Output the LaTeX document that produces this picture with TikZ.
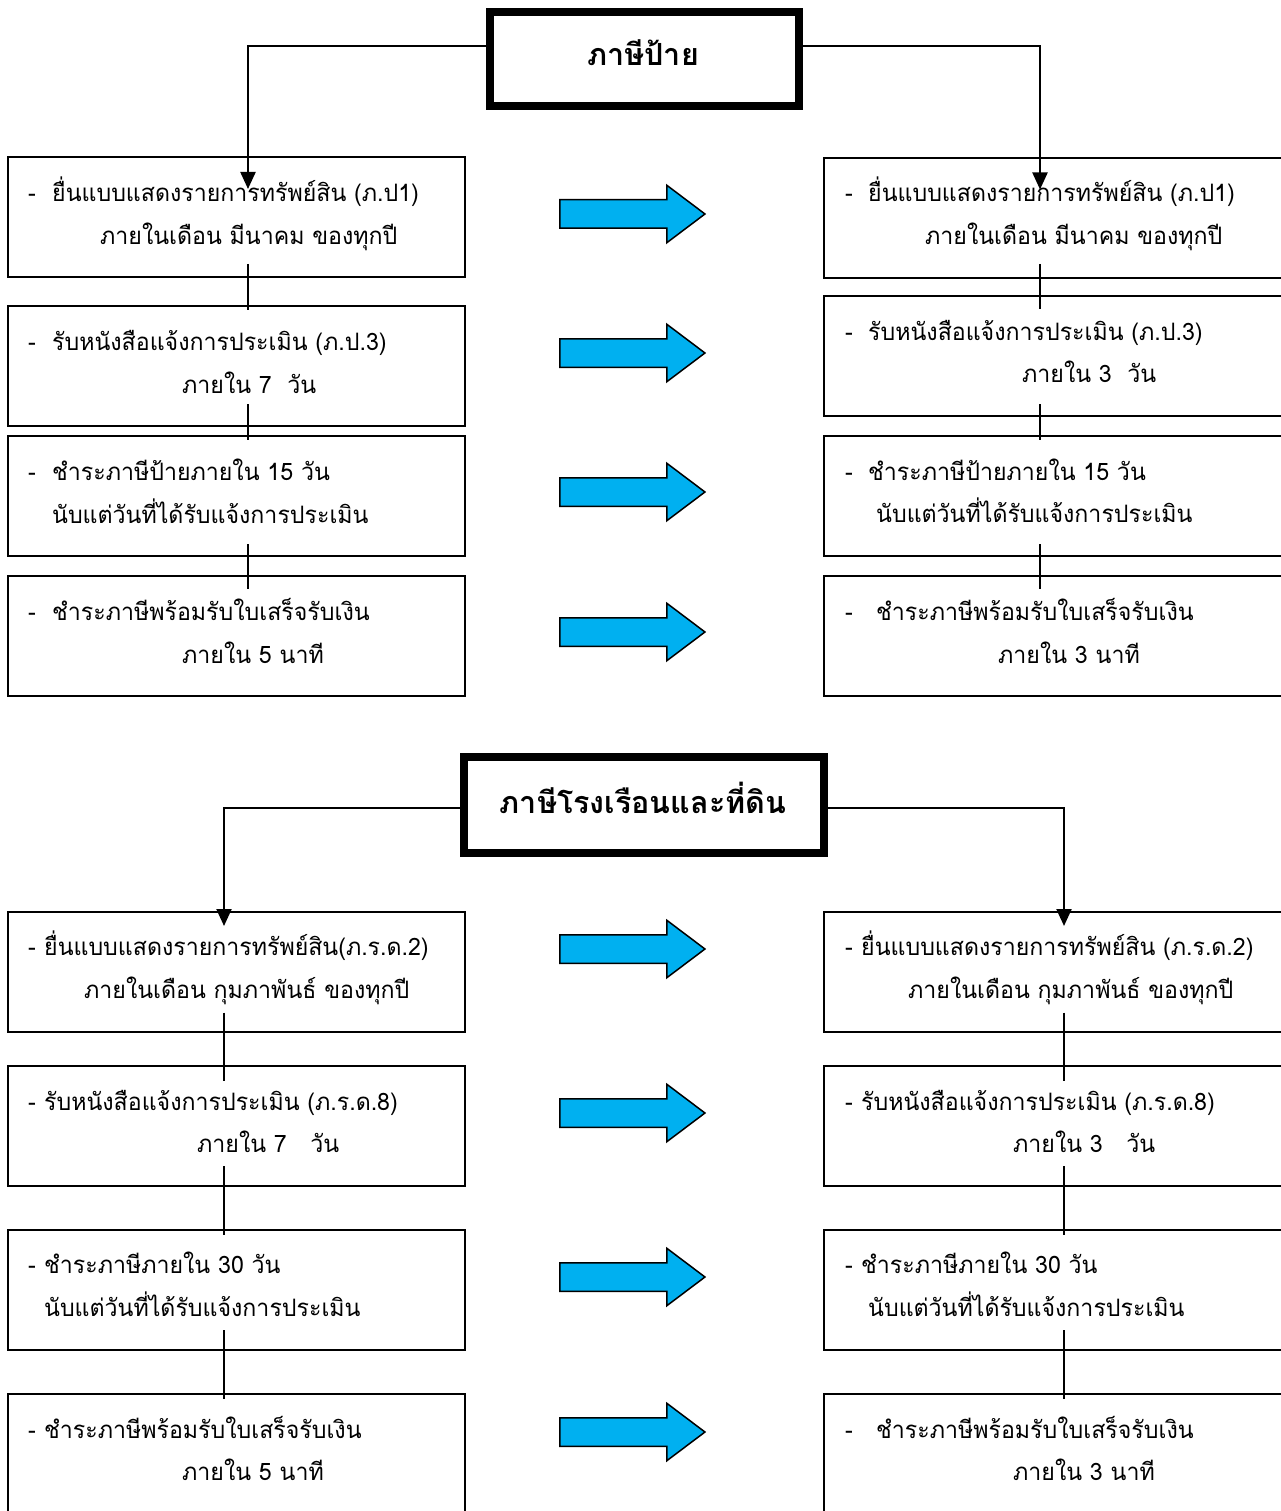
\documentclass[tikz,border=0pt]{standalone}
\usepackage{fontspec}
\newfontfamily\thai[Script=Thai,FakeStretch=0.965]{Loma}
\newfontfamily\thaittl[Script=Thai]{Loma}
\usetikzlibrary{shapes.arrows,arrows.meta,calc}
\tikzset{
  box/.style={draw,line width=2pt,minimum width=457pt,minimum height=120pt,inner sep=0pt},
  rbox/.style={box,minimum width=467pt},
  titlebox/.style={draw,line width=7.5pt,inner sep=0pt},
  tx/.style={anchor=base west,inner sep=0pt,font=\thai\fontsize{24}{28}\selectfont},
  ttl/.style={anchor=base,inner sep=0pt,font=\thaittl\bfseries\fontsize{30.5}{34}\selectfont},
  bluearrow/.style={single arrow,draw,line width=1.5pt,fill={rgb,255:red,0;green,176;blue,240},
    minimum height=145pt,inner xsep=0pt,inner ysep=13.5pt,single arrow head extend=14.5pt,
    single arrow tip angle=74},
  conn/.style={line width=2pt},
  feed/.style={line width=2.2pt,-{Triangle[length=17pt,width=15pt]}}
}
\newcommand{\dsh}[1]{\makebox[#1][l]{-}}
\begin{document}
\begin{tikzpicture}[x=1pt,y=-1pt]
\useasboundingbox[fill=white] (0,0) rectangle (1280,1511);
% ---------- upper section ----------
\node[titlebox,minimum width=309pt,minimum height=94pt] (T1) at (644.5,59) {};
\node[ttl] (T1t) at (643,66) {ภาษีป้าย};
\node[box] (L1) at (236,217.5) {};
\node[box] (L2) at (236,366) {};
\node[box] (L3) at (236,496) {};
\node[box] (L4) at (236,636) {};
\node[rbox] (R1) at (1057,218) {};
\node[rbox] (R2) at (1057,356) {};
\node[rbox] (R3) at (1057,496) {};
\node[rbox] (R4) at (1057,636) {};
\node[bluearrow] (A1) at (623,214) {};
\node[bluearrow] (A2) at (623,353) {};
\node[bluearrow] (A3) at (623,492) {};
\node[bluearrow] (A4) at (623,632) {};
% texts
\node[tx] (L1a) at (28,202) {\dsh{24pt}ยื่นแบบแสดงรายการทรัพย์สิน (ภ.ป1)};
\node[tx] (L1b) at (100,245) {ภายในเดือน มีนาคม ของทุกปี};
\node[tx] (L2a) at (28,350) {\dsh{24pt}รับหนังสือแจ้งการประเมิน (ภ.ป.3)};
\node[tx] (L2b) at (182,393) {ภายใน 7\ \ วัน};
\node[tx] (L3a) at (28,480) {\dsh{24pt}ชำระภาษีป้ายภายใน 15 วัน};
\node[tx] (L3b) at (52,523) {นับแต่วันที่ได้รับแจ้งการประเมิน};
\node[tx] (L4a) at (28,620) {\dsh{24pt}ชำระภาษีพร้อมรับใบเสร็จรับเงิน};
\node[tx] (L4b) at (182,663) {ภายใน 5 นาที};
\node[tx] (R1a) at (845,202) {\dsh{23pt}ยื่นแบบแสดงรายการทรัพย์สิน (ภ.ป1)};
\node[tx] (R1b) at (925,245) {ภายในเดือน มีนาคม ของทุกปี};
\node[tx] (R2a) at (845,340) {\dsh{23pt}รับหนังสือแจ้งการประเมิน (ภ.ป.3)};
\node[tx] (R2b) at (1022,382) {ภายใน 3\ \ วัน};
\node[tx] (R3a) at (845,480) {\dsh{23pt}ชำระภาษีป้ายภายใน 15 วัน};
\node[tx] (R3b) at (876,522) {นับแต่วันที่ได้รับแจ้งการประเมิน};
\node[tx] (R4a) at (845,620) {\dsh{31pt}ชำระภาษีพร้อมรับใบเสร็จรับเงิน};
\node[tx] (R4b) at (998,663) {ภายใน 3 นาที};
% connectors
\draw[feed] ($(T1.west)+(0,-13)$) -| ($(L1.north)+(12,32.5)$);
\draw[feed] ($(T1.east)+(0,-13)$) -| ($(R1.north)+(-17,32.5)$);
\draw[conn] ($(L1.south)+(12,-14.5)$) -- ($(L2.north)+(12,5)$);
\draw[conn] ($(L2.south)+(12,-23)$) -- ($(L3.north)+(12,4.5)$);
\draw[conn] ($(L3.south)+(12,-13)$) -- ($(L4.north)+(12,14)$);
\draw[conn] ($(R1.south)+(-17,-15)$) -- ($(R2.north)+(-17,14.5)$);
\draw[conn] ($(R2.south)+(-17,-13)$) -- ($(R3.north)+(-17,5)$);
\draw[conn] ($(R3.south)+(-17,-13)$) -- ($(R4.north)+(-17,14)$);
% ---------- lower section ----------
\node[titlebox,minimum width=360pt,minimum height=96pt] (T2) at (644,805) {};
\node[ttl] (T2t) at (643,813) {ภาษีโรงเรือนและที่ดิน};
\node[box] (L5) at (236,972) {};
\node[box] (L6) at (236,1126) {};
\node[box] (L7) at (236,1290) {};
\node[box] (L8) at (236,1454) {};
\node[rbox] (R5) at (1057,972) {};
\node[rbox] (R6) at (1057,1126) {};
\node[rbox] (R7) at (1057,1290) {};
\node[rbox] (R8) at (1057,1454) {};
\node[bluearrow] (A5) at (623,949) {};
\node[bluearrow] (A6) at (623,1113) {};
\node[bluearrow] (A7) at (623,1277) {};
\node[bluearrow] (A8) at (623,1432) {};
\node[tx] (L5a) at (28,955) {\dsh{16pt}ยื่นแบบแสดงรายการทรัพย์สิน(ภ.ร.ด.2)};
\node[tx] (L5b) at (84,998) {ภายในเดือน กุมภาพันธ์ ของทุกปี};
\node[tx] (L6a) at (28,1110) {\dsh{16pt}รับหนังสือแจ้งการประเมิน (ภ.ร.ด.8)};
\node[tx] (L6b) at (197,1152) {ภายใน 7\ \ \ วัน};
\node[tx] (L7a) at (28,1273) {\dsh{16pt}ชำระภาษีภายใน 30 วัน};
\node[tx] (L7b) at (44,1316) {นับแต่วันที่ได้รับแจ้งการประเมิน};
\node[tx] (L8a) at (28,1438) {\dsh{16pt}ชำระภาษีพร้อมรับใบเสร็จรับเงิน};
\node[tx] (L8b) at (182,1480) {ภายใน 5 นาที};
\node[tx] (R5a) at (845,955) {\dsh{16pt}ยื่นแบบแสดงรายการทรัพย์สิน (ภ.ร.ด.2)};
\node[tx] (R5b) at (908,998) {ภายในเดือน กุมภาพันธ์ ของทุกปี};
\node[tx] (R6a) at (845,1110) {\dsh{16pt}รับหนังสือแจ้งการประเมิน (ภ.ร.ด.8)};
\node[tx] (R6b) at (1013,1152) {ภายใน 3\ \ \ วัน};
\node[tx] (R7a) at (845,1273) {\dsh{16pt}ชำระภาษีภายใน 30 วัน};
\node[tx] (R7b) at (868,1316) {นับแต่วันที่ได้รับแจ้งการประเมิน};
\node[tx] (R8a) at (845,1438) {\dsh{31pt}ชำระภาษีพร้อมรับใบเสร็จรับเงิน};
\node[tx] (R8b) at (1013,1480) {ภายใน 3 นาที};
\draw[feed] ($(T2.west)+(0,3)$) -| ($(L5.north)+(-12,15)$);
\draw[feed] ($(T2.east)+(0,3)$) -| ($(R5.north)+(7,15)$);
\draw[conn] ($(L5.south)+(-12,-20.5)$) -- ($(L6.north)+(-12,16)$);
\draw[conn] ($(L6.south)+(-12,-21)$) -- ($(L7.north)+(-12,6)$);
\draw[conn] ($(L7.south)+(-12,-21)$) -- ($(L8.north)+(-12,6)$);
\draw[conn] ($(R5.south)+(7,-20.5)$) -- ($(R6.north)+(7,16)$);
\draw[conn] ($(R6.south)+(7,-21)$) -- ($(R7.north)+(7,6)$);
\draw[conn] ($(R7.south)+(7,-21)$) -- ($(R8.north)+(7,6)$);
\end{tikzpicture}
\end{document}
